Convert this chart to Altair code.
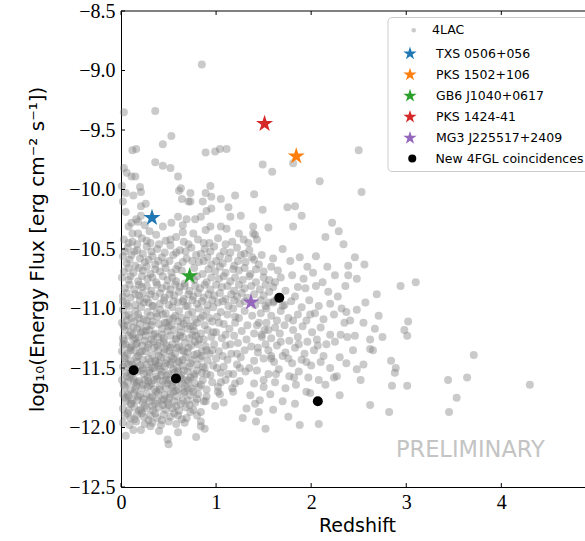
import math
import altair as alt
import pandas as pd

# ---------------- data ----------------
# 4LAC blazars: (redshift, log10 energy flux)
lac_upper = [
    (0.85, -8.95), (0.03, -9.35), (0.36, -9.34), (0.53, -9.55), (0.44, -9.62), (0.16, -9.66),
    (0.12, -9.67), (0.03, -9.82), (0.06, -9.86), (0.11, -9.89), (0.15, -9.89), (0.36, -9.77),
    (0.44, -9.80), (0.52, -9.82), (0.60, -9.89), (0.61, -10.01), (0.64, -10.08), (0.73, -10.03),
    (0.89, -9.69), (0.99, -9.68), (1.04, -9.66), (1.11, -9.66), (1.49, -9.79), (1.59, -9.85),
    (2.50, -9.67), (2.53, -10.02), (2.09, -9.93), (1.81, -9.78), (1.83, -10.14), (1.75, -10.15),
    (1.90, -10.22), (1.81, -10.31), (1.49, -10.17), (1.40, -10.04), (1.55, -10.32), (1.39, -10.31),
    (1.41, -10.38), (1.43, -10.42), (2.22, -10.28), (2.29, -10.35), (2.15, -10.40), (2.34, -10.46),
    (0.20, -9.98), (0.21, -10.02), (0.05, -10.03), (0.13, -10.05), (0.63, -9.99), (0.73, -10.10),
    (0.94, -9.97), (0.86, -10.10), (0.89, -10.03), (0.95, -10.06), (1.20, -10.05), (1.05, -10.08),
    (0.05, -10.19), (0.21, -10.14), (0.26, -10.12), (0.11, -10.28), (0.21, -10.22), (0.08, -10.31),
    (0.18, -10.27), (0.44, -10.31), (0.53, -10.28), (0.60, -10.23), (0.69, -10.25), (0.65, -10.30),
    (0.78, -10.25), (0.84, -10.23), (0.90, -10.18), (0.95, -10.16), (1.13, -10.15), (1.15, -10.23),
    (1.26, -10.22), (0.65, -10.36), (0.76, -10.37), (0.89, -10.34), (0.94, -10.31), (1.05, -10.31),
    (1.11, -10.33), (1.24, -10.37), (1.39, -10.37), (0.02, -10.10), (0.01, -9.97), (0.30, -10.35),
    (0.37, -10.38), (0.25, -10.30), (0.12, -10.37), (0.16, -10.25), (0.18, -10.37), (0.71, -10.10),
]

lac_middle = [
    (0.03, -10.42), (0.12, -10.44), (0.22, -10.41), (0.31, -10.45), (0.47, -10.43), (0.58, -10.40),
    (0.66, -10.44), (0.81, -10.42), (0.93, -10.45), (1.02, -10.41), (1.17, -10.44), (1.29, -10.42),
    (0.07, -10.49), (0.17, -10.51), (0.27, -10.48), (0.38, -10.50), (0.52, -10.47), (0.62, -10.51),
    (0.74, -10.49), (0.88, -10.50), (0.98, -10.48), (1.08, -10.52), (1.22, -10.49), (1.35, -10.51),
    (0.02, -10.56), (0.11, -10.55), (0.20, -10.58), (0.33, -10.56), (0.43, -10.57), (0.55, -10.55),
    (0.69, -10.58), (0.79, -10.55), (0.91, -10.57), (1.04, -10.56), (1.13, -10.58), (1.26, -10.55),
    (1.38, -10.57), (0.06, -10.62), (0.15, -10.64), (0.25, -10.61), (0.36, -10.63), (0.46, -10.62),
    (0.60, -10.64), (0.82, -10.61), (0.95, -10.63), (1.07, -10.62), (1.19, -10.64), (1.31, -10.61),
    (1.45, -10.63), (0.03, -10.69), (0.13, -10.70), (0.23, -10.68), (0.31, -10.71), (0.41, -10.69),
    (0.53, -10.70), (0.64, -10.68), (0.86, -10.71), (0.99, -10.69), (1.10, -10.70), (1.24, -10.68),
    (1.36, -10.71), (1.50, -10.69), (0.08, -10.76), (0.18, -10.77), (0.28, -10.75), (0.37, -10.78),
    (0.49, -10.76), (0.58, -10.77), (0.67, -10.79), (0.77, -10.76), (0.90, -10.78), (1.03, -10.75),
    (1.15, -10.77), (1.28, -10.76), (1.42, -10.78), (1.56, -10.76), (0.04, -10.83), (0.14, -10.84),
    (0.22, -10.82), (0.32, -10.85), (0.43, -10.83), (0.52, -10.84), (0.62, -10.82), (0.72, -10.85),
    (0.83, -10.83), (0.94, -10.84), (1.06, -10.82), (1.19, -10.85), (1.30, -10.83), (1.46, -10.84),
    (1.60, -10.82), (0.02, -10.90), (0.10, -10.91), (0.19, -10.89), (0.27, -10.92), (0.36, -10.90),
    (0.46, -10.91), (0.56, -10.89), (0.66, -10.92), (0.76, -10.90), (0.87, -10.91), (0.98, -10.89),
    (1.10, -10.92), (1.22, -10.90), (1.33, -10.91), (1.50, -10.89), (1.64, -10.92), (0.06, -10.96),
    (0.15, -10.97), (0.24, -10.95), (0.33, -10.98), (0.41, -10.96), (0.50, -10.97), (0.60, -10.95),
    (0.70, -10.98), (0.80, -10.96), (0.91, -10.97), (1.02, -10.95), (1.13, -10.98), (1.25, -10.96),
    (1.41, -10.97), (1.55, -10.95), (1.70, -10.98),
]

lac_middle_extra = [
    (0.08, -10.45), (0.17, -10.46), (0.27, -10.43), (0.40, -10.46), (0.52, -10.42), (0.71, -10.46),
    (0.87, -10.45), (1.10, -10.46), (1.34, -10.45), (0.04, -10.52), (0.14, -10.52), (0.23, -10.54),
    (0.32, -10.52), (0.46, -10.53), (0.58, -10.53), (0.68, -10.52), (0.84, -10.54), (0.94, -10.52),
    (1.15, -10.53), (1.30, -10.54), (0.09, -10.59), (0.29, -10.59), (0.39, -10.60), (0.51, -10.60),
    (0.65, -10.61), (0.75, -10.60), (0.87, -10.60), (1.00, -10.60), (1.23, -10.60), (1.40, -10.59),
    (0.08, -10.66), (0.19, -10.66), (0.27, -10.65), (0.36, -10.67), (0.47, -10.66), (0.58, -10.67),
    (0.77, -10.66), (0.92, -10.67), (1.04, -10.65), (1.18, -10.67), (1.30, -10.66), (1.42, -10.67),
    (1.58, -10.65), (0.01, -10.74), (0.10, -10.73), (0.22, -10.73), (0.33, -10.74), (0.44, -10.73),
    (0.54, -10.74), (0.80, -10.73), (0.95, -10.74), (1.08, -10.73), (1.20, -10.74), (1.35, -10.73),
    (1.50, -10.74), (1.68, -10.74), (0.09, -10.80), (0.19, -10.80), (0.27, -10.81), (0.38, -10.80),
    (0.48, -10.81), (0.57, -10.80), (0.67, -10.81), (0.78, -10.81), (0.88, -10.80), (1.00, -10.80),
    (1.12, -10.81), (1.24, -10.80), (1.37, -10.81), (1.52, -10.80), (0.06, -10.87), (0.15, -10.88),
    (0.23, -10.87), (0.31, -10.88), (0.41, -10.87), (0.51, -10.88), (0.61, -10.86), (0.71, -10.88),
    (0.81, -10.87), (0.92, -10.88), (1.04, -10.87), (1.16, -10.88), (1.27, -10.87), (1.40, -10.88),
    (1.56, -10.86), (0.02, -10.94), (0.20, -10.93), (0.29, -10.95), (0.45, -10.93), (0.55, -10.94),
    (0.65, -10.94), (0.75, -10.93), (0.85, -10.94), (0.96, -10.93), (1.07, -10.94), (1.19, -10.93),
    (1.30, -10.94), (1.47, -10.93), (1.61, -10.94),
]

lac_core = [
    (0.02, -11.01), (0.08, -10.98), (0.15, -11.02), (0.21, -10.99), (0.28, -11.03), (0.34, -10.98),
    (0.41, -11.01), (0.47, -11.04), (0.54, -10.99), (0.61, -11.02), (0.68, -10.98), (0.75, -11.03),
    (0.82, -11.00), (0.90, -11.02), (0.97, -10.99), (1.05, -11.03), (1.18, -11.00), (1.30, -11.02),
    (0.05, -11.06), (0.11, -11.08), (0.18, -11.05), (0.24, -11.09), (0.31, -11.06), (0.38, -11.07),
    (0.44, -11.05), (0.51, -11.09), (0.57, -11.06), (0.64, -11.08), (0.71, -11.05), (0.78, -11.09),
    (0.86, -11.06), (0.93, -11.08), (1.01, -11.07), (1.12, -11.05), (1.24, -11.08), (1.38, -11.06),
    (0.01, -11.12), (0.07, -11.14), (0.14, -11.11), (0.20, -11.13), (0.27, -11.15), (0.33, -11.11),
    (0.40, -11.13), (0.46, -11.12), (0.53, -11.14), (0.60, -11.11), (0.66, -11.13), (0.73, -11.15),
    (0.80, -11.12), (0.88, -11.14), (0.96, -11.11), (1.08, -11.13), (1.20, -11.12), (1.33, -11.14),
    (1.45, -11.12), (0.04, -11.18), (0.10, -11.20), (0.17, -11.17), (0.23, -11.19), (0.30, -11.18),
    (0.36, -11.21), (0.43, -11.17), (0.49, -11.19), (0.56, -11.18), (0.63, -11.20), (0.70, -11.17),
    (0.77, -11.19), (0.84, -11.21), (0.91, -11.18), (1.00, -11.20), (1.14, -11.17), (1.27, -11.19),
    (1.40, -11.21), (1.55, -11.18), (0.02, -11.25), (0.08, -11.23), (0.13, -11.26), (0.19, -11.24),
    (0.26, -11.23), (0.32, -11.26), (0.39, -11.24), (0.45, -11.25), (0.52, -11.23), (0.58, -11.26),
    (0.65, -11.24), (0.72, -11.25), (0.79, -11.23), (0.87, -11.26), (0.95, -11.24), (1.06, -11.25),
    (1.19, -11.23), (1.32, -11.26), (1.48, -11.24), (0.05, -11.30), (0.11, -11.32), (0.17, -11.29),
    (0.22, -11.31), (0.29, -11.30), (0.35, -11.33), (0.41, -11.29), (0.48, -11.31), (0.54, -11.30),
    (0.61, -11.32), (0.67, -11.29), (0.74, -11.31), (0.81, -11.30), (0.89, -11.32), (0.98, -11.30),
    (1.10, -11.31), (1.23, -11.29), (1.37, -11.32), (1.52, -11.30), (0.01, -11.36), (0.07, -11.38),
    (0.14, -11.35), (0.20, -11.37), (0.26, -11.36), (0.33, -11.39), (0.39, -11.35), (0.45, -11.37),
    (0.51, -11.36), (0.57, -11.38), (0.64, -11.35), (0.70, -11.37), (0.77, -11.39), (0.85, -11.36),
    (0.93, -11.38), (1.03, -11.36), (1.16, -11.38), (1.30, -11.35), (1.44, -11.37), (0.04, -11.42),
    (0.10, -11.44), (0.16, -11.41), (0.23, -11.43), (0.29, -11.42), (0.36, -11.44), (0.42, -11.41),
    (0.48, -11.43), (0.55, -11.42), (0.61, -11.45), (0.68, -11.41), (0.75, -11.43), (0.83, -11.42),
    (0.91, -11.44), (1.00, -11.42), (1.12, -11.43), (1.26, -11.41), (1.40, -11.44), (1.58, -11.42),
    (0.02, -11.49), (0.08, -11.47), (0.14, -11.50), (0.20, -11.48), (0.27, -11.47), (0.33, -11.50),
    (0.39, -11.48), (0.46, -11.49), (0.52, -11.47), (0.59, -11.50), (0.65, -11.48), (0.72, -11.49),
    (0.80, -11.47), (0.88, -11.50), (0.97, -11.48), (1.08, -11.49), (1.22, -11.47), (1.35, -11.50),
    (0.05, -11.54), (0.11, -11.56), (0.17, -11.53), (0.24, -11.55), (0.30, -11.54), (0.37, -11.57),
    (0.43, -11.53), (0.50, -11.55), (0.56, -11.54), (0.63, -11.56), (0.70, -11.53), (0.77, -11.55),
    (0.85, -11.54), (0.94, -11.56), (1.05, -11.54), (1.18, -11.55), (1.31, -11.53), (0.01, -11.60),
    (0.07, -11.62), (0.13, -11.59), (0.19, -11.61), (0.25, -11.60), (0.32, -11.63), (0.38, -11.59),
    (0.44, -11.61), (0.51, -11.60), (0.58, -11.62), (0.64, -11.59), (0.71, -11.61), (0.78, -11.63),
    (0.86, -11.60), (0.96, -11.62), (1.10, -11.60), (1.25, -11.61), (0.04, -11.66), (0.10, -11.68),
    (0.16, -11.65), (0.22, -11.67), (0.28, -11.66), (0.35, -11.68), (0.41, -11.65), (0.47, -11.67),
    (0.54, -11.66), (0.60, -11.68), (0.67, -11.65), (0.74, -11.67), (0.82, -11.66), (0.90, -11.68),
    (1.02, -11.66), (1.17, -11.67), (0.02, -11.72), (0.08, -11.74), (0.14, -11.71), (0.20, -11.73),
    (0.27, -11.72), (0.33, -11.74), (0.39, -11.71), (0.46, -11.73), (0.52, -11.72), (0.59, -11.74),
    (0.66, -11.71), (0.73, -11.73), (0.81, -11.72), (0.90, -11.74), (1.04, -11.72), (0.05, -11.78),
    (0.11, -11.80), (0.17, -11.77), (0.23, -11.79), (0.30, -11.78), (0.36, -11.80), (0.43, -11.77),
    (0.49, -11.79), (0.56, -11.78), (0.63, -11.80), (0.70, -11.77), (0.78, -11.79), (0.87, -11.78),
    (0.02, -11.84), (0.08, -11.86), (0.14, -11.83), (0.21, -11.85), (0.27, -11.84), (0.34, -11.86),
    (0.40, -11.83), (0.47, -11.85), (0.54, -11.84), (0.61, -11.86), (0.68, -11.83), (0.76, -11.85),
    (0.84, -11.87), (0.04, -11.90), (0.10, -11.92), (0.17, -11.89), (0.24, -11.91), (0.31, -11.90),
    (0.38, -11.92), (0.45, -11.89), (0.52, -11.91), (0.60, -11.90), (0.69, -11.92), (0.80, -11.90),
    (0.02, -11.96), (0.09, -11.98), (0.16, -11.95), (0.25, -11.97), (0.33, -11.96), (0.42, -11.98),
    (0.50, -11.95), (0.58, -11.97), (0.67, -11.96), (0.84, -11.95), (0.05, -12.07), (0.13, -12.02),
    (0.21, -12.02), (0.31, -11.99), (0.49, -12.10), (0.79, -12.08), (0.40, -12.03), (0.60, -12.04),
    (0.88, -12.01), (0.50, -12.14),
]

lac_core_extra = [
    (0.03, -11.15), (0.12, -11.22), (0.09, -11.33), (0.18, -11.40), (0.25, -11.27), (0.31, -11.45),
    (0.22, -11.52), (0.28, -11.58), (0.35, -11.50), (0.40, -11.40), (0.47, -11.46), (0.42, -11.56),
    (0.49, -11.63), (0.55, -11.51), (0.60, -11.44), (0.62, -11.58), (0.67, -11.70), (0.55, -11.70),
    (0.45, -11.76), (0.37, -11.70), (0.30, -11.65), (0.24, -11.76), (0.15, -11.68), (0.06, -11.57),
    (0.12, -11.47), (0.04, -11.40), (0.16, -11.30), (0.21, -11.20), (0.34, -11.22), (0.38, -11.31),
    (0.45, -11.28), (0.52, -11.33), (0.58, -11.25), (0.66, -11.36), (0.73, -11.46), (0.70, -11.60),
    (0.77, -11.57), (0.80, -11.38), (0.86, -11.49), (0.50, -11.81), (0.33, -11.82), (0.19, -11.86),
    (0.10, -11.80), (0.07, -11.72), (0.14, -11.62), (0.02, -11.30), (0.08, -11.05), (0.27, -11.10),
    (0.48, -11.12), (0.63, -11.15), (0.75, -11.22), (0.90, -11.35), (0.84, -11.08), (0.89, -11.78),
    (1.02, -11.70), (1.18, -11.70), (0.99, -11.82), (1.08, -11.79), (1.41, -11.80), (0.84, -11.99),
]

lac_core_extra2 = [
    (0.06, -11.10), (0.13, -11.16), (0.19, -11.08), (0.26, -11.19), (0.32, -11.14), (0.37, -11.04),
    (0.43, -11.22), (0.50, -11.15), (0.55, -11.08), (0.62, -11.23), (0.69, -11.10), (0.76, -11.15),
    (0.82, -11.26), (0.03, -11.27), (0.10, -11.35), (0.15, -11.25), (0.22, -11.36), (0.28, -11.33),
    (0.34, -11.28), (0.40, -11.46), (0.46, -11.34), (0.53, -11.40), (0.59, -11.33), (0.65, -11.43),
    (0.71, -11.33), (0.78, -11.28), (0.85, -11.40), (0.05, -11.46), (0.10, -11.52), (0.17, -11.45),
    (0.23, -11.50), (0.30, -11.52), (0.36, -11.45), (0.41, -11.51), (0.48, -11.56), (0.53, -11.45),
    (0.60, -11.53), (0.66, -11.52), (0.73, -11.58), (0.80, -11.52), (0.90, -11.55), (0.03, -11.64),
    (0.09, -11.58), (0.17, -11.62), (0.23, -11.64), (0.29, -11.61), (0.35, -11.60), (0.41, -11.68),
    (0.47, -11.60), (0.53, -11.64), (0.58, -11.69), (0.64, -11.63), (0.70, -11.67), (0.76, -11.70),
    (0.84, -11.64), (0.05, -11.75), (0.12, -11.77), (0.18, -11.74), (0.25, -11.82), (0.31, -11.75),
    (0.38, -11.77), (0.44, -11.81), (0.51, -11.75), (0.58, -11.82), (0.65, -11.77), (0.72, -11.81),
    (0.80, -11.76), (0.07, -11.88), (0.14, -11.93), (0.22, -11.88), (0.29, -11.94), (0.36, -11.88),
    (0.43, -11.94), (0.56, -11.88), (0.64, -11.93), (0.73, -11.87), (0.96, -11.35), (1.07, -11.40),
    (1.15, -11.30), (1.22, -11.38), (1.01, -11.50), (1.13, -11.55), (1.25, -11.50), (1.05, -11.62),
    (1.20, -11.63), (0.97, -11.20), (1.10, -11.22), (1.20, -11.07), (1.03, -11.12),
]

lac_spread = [
    (1.48, -10.55), (1.60, -10.58), (1.70, -10.50), (1.78, -10.60), (1.88, -10.57), (1.96, -10.65),
    (2.05, -10.56), (2.17, -10.65), (1.65, -10.68), (1.80, -10.72), (1.92, -10.75), (2.02, -10.70),
    (2.12, -10.78), (2.25, -10.72), (1.62, -10.78), (1.73, -10.85), (1.86, -10.82), (2.28, -10.90),
    (1.60, -10.95), (1.72, -10.97), (1.90, -10.99), (1.98, -10.93), (2.08, -10.98), (2.20, -10.96),
    (2.32, -11.00), (1.47, -11.04), (1.58, -11.06), (1.68, -11.02), (1.76, -11.08), (1.86, -11.05),
    (1.95, -11.10), (2.04, -11.04), (2.13, -11.09), (2.24, -11.05), (2.35, -11.12), (1.43, -11.14),
    (1.53, -11.12), (1.62, -11.16), (1.72, -11.14), (1.81, -11.18), (1.91, -11.15), (2.01, -11.20),
    (2.10, -11.16), (2.20, -11.22), (1.48, -11.22), (1.58, -11.25), (1.67, -11.21), (1.77, -11.27),
    (1.86, -11.24), (1.96, -11.28), (2.06, -11.26), (2.16, -11.30), (1.44, -11.33), (1.55, -11.35),
    (1.64, -11.31), (1.73, -11.37), (1.83, -11.33), (1.93, -11.38), (2.03, -11.35), (2.13, -11.40),
    (1.50, -11.42), (1.61, -11.45), (1.70, -11.40), (1.80, -11.46), (1.90, -11.43), (2.00, -11.48),
    (2.10, -11.45), (2.20, -11.50), (1.43, -11.52), (1.55, -11.55), (1.66, -11.51), (1.77, -11.57),
    (1.87, -11.53), (1.97, -11.58), (2.08, -11.60), (1.40, -11.63), (1.50, -11.66), (1.62, -11.62),
    (1.73, -11.67), (1.84, -11.64), (1.95, -11.70), (1.36, -11.73), (1.46, -11.77), (1.57, -11.72),
    (1.70, -11.78), (1.83, -11.80), (1.32, -11.84), (1.45, -11.87), (1.60, -11.85), (1.76, -11.91),
    (1.28, -11.92), (1.42, -11.95), (1.52, -10.98), (1.66, -10.92), (1.79, -10.94), (1.53, -11.00),
    (1.64, -11.10), (1.81, -11.10), (1.99, -11.05), (1.51, -11.18), (1.68, -11.28), (1.87, -11.30),
    (2.07, -11.31), (1.58, -11.40), (1.76, -11.42), (1.95, -11.45), (1.63, -11.55), (1.82, -11.58),
    (1.50, -11.60),
]

lac_tail = [
    (2.46, -10.57), (2.56, -10.63), (2.39, -10.64), (2.48, -10.75), (2.39, -10.72), (2.94, -10.81),
    (3.10, -10.78), (2.69, -10.88), (3.02, -11.11), (2.98, -11.18), (3.01, -11.23), (2.67, -11.17),
    (2.75, -11.24), (2.62, -11.34), (2.84, -11.44), (2.89, -11.50), (2.88, -11.54), (2.85, -11.65),
    (3.01, -11.65), (2.62, -11.81), (2.82, -11.87), (2.30, -11.73), (2.08, -11.97), (1.88, -11.98),
    (1.52, -12.01), (1.99, -11.71), (2.46, -11.23), (2.38, -11.24), (2.48, -11.51), (2.24, -11.58),
    (2.55, -11.47), (2.55, -11.12), (2.41, -11.10), (2.48, -11.01), (2.37, -11.03), (2.57, -10.95),
    (2.62, -11.26), (2.65, -11.35), (2.37, -11.46), (2.30, -11.41), (2.27, -11.57), (2.15, -11.64),
    (2.31, -11.22), (2.25, -11.28), (2.05, -10.81), (2.18, -10.86), (2.36, -10.81), (1.94, -10.83),
    (1.83, -10.90), (2.71, -11.06), (2.44, -11.35), (2.52, -11.60), (3.71, -11.39), (3.64, -11.58),
    (3.44, -11.60), (3.53, -11.75), (3.45, -11.87), (4.30, -11.64),
]

lac_label = "4LAC"

star_names = ["TXS 0506+056", "PKS 1502+106", "GB6 J1040+0617", "PKS 1424-41", "MG3 J225517+2409"]
star_z = [0.326, 1.843, 0.722, 1.51, 1.367]
star_flux = [-10.238, -9.72, -10.728, -9.448, -10.947]

new_label = "New 4FGL coincidences"
new_z = [0.133, 0.578, 1.665, 2.07]
new_flux = [-11.519, -11.588, -10.91, -11.779]

x_ticks = [0, 1, 2, 3, 4]
y_ticks = [-12.5, -12.0, -11.5, -11.0, -10.5, -10.0, -9.5, -9.0, -8.5]

prelim_text = "PRELIMINARY"
prelim_z = 3.674
prelim_flux = -12.185

# ---------------- styles ----------------
W, H = 464, 476
X_MAX = 4.88

lac_color = "rgba(128,128,128,0.42)"
star_colors = ["#1f77b4", "#ff7f0e", "#2ca02c", "#d62728", "#9467bd"]
new_color = "#000000"

star_pts = []
for i in range(10):
    r = 1.0 if i % 2 == 0 else 0.382
    a = math.radians(-90 + 36 * i)
    star_pts.append(f"{r * math.cos(a):.4f},{r * math.sin(a):.4f}")
STAR = "M" + " L".join(star_pts) + " Z"

# ---------------- tables ----------------
lac_all = (lac_upper + lac_middle + lac_middle_extra + lac_core + lac_core_extra
           + lac_core_extra2 + lac_spread + lac_tail)
lac_df = pd.DataFrame({"z": [p[0] for p in lac_all], "flux": [p[1] for p in lac_all],
                       "label": lac_label})
star_df = pd.DataFrame({"z": star_z, "flux": star_flux, "label": star_names})
new_df = pd.DataFrame({"z": new_z, "flux": new_flux, "label": new_label})

LEG_FONT = dict(labelFont="DejaVu Sans", labelFontSize=12.5, labelColor="black",
                title=None, orient="none", padding=0, symbolStrokeWidth=0)

x_axis = alt.Axis(
    values=x_ticks, format="d", labelFont="Liberation Serif", labelFontSize=20,
    labelColor="black", tickSize=0, labelPadding=5, labelFlush=False, labelOverlap=False,
    domainColor="black", domainWidth=1, grid=False, orient="bottom",
    title="Redshift", titleFont="DejaVu Sans", titleFontSize=19, titleFontWeight="normal",
    titleColor="black", titleX=236, titleY=44, titleBaseline="alphabetic", titleAlign="center",
)
y_axis = alt.Axis(
    values=y_ticks, format=".1f", labelFont="Liberation Serif", labelFontSize=20,
    labelColor="black", tickSize=0, labelPadding=6, labelFlush=False, labelOverlap=False,
    domainColor="black", domainWidth=1, grid=False, orient="left",
    title="log₁₀(Energy Flux [erg cm⁻² s⁻¹])", titleFont="DejaVu Sans", titleFontSize=20,
    titleFontWeight="normal", titleColor="black", titleX=-84, titleY=H / 2,
    titleAngle=270, titleBaseline="middle", titleAlign="center",
)
xs = alt.Scale(domain=[0, X_MAX], nice=False, zero=False)
ys = alt.Scale(domain=[-12.5, -8.5], nice=False, zero=False)


def X():
    return alt.X("z:Q", scale=xs, axis=x_axis)


def Y():
    return alt.Y("flux:Q", scale=ys, axis=y_axis)


lac_layer = alt.Chart(lac_df).mark_point(filled=True, strokeWidth=0, opacity=1, size=64).encode(
    x=X(), y=Y(),
    color=alt.Color("label:N", scale=alt.Scale(domain=[lac_label], range=[lac_color]),
                    legend=alt.Legend(legendX=286.5, legendY=13, symbolSize=20, labelOffset=12,
                                      symbolType="circle", **LEG_FONT)),
)

legend_box = alt.Chart(pd.DataFrame({"k": [0]})).mark_rect(
    fill="white", stroke="#cccccc", strokeWidth=1, cornerRadius=4
).encode(x=alt.value(267), x2=alt.value(W + 20), y=alt.value(6.5), y2=alt.value(160.5))

star_layer = alt.Chart(star_df).mark_point(filled=True, strokeWidth=0, opacity=1, size=324, shape=STAR).encode(
    x=X(), y=Y(),
    color=alt.Color("label:N", scale=alt.Scale(domain=star_names, range=star_colors),
                    legend=alt.Legend(legendX=282, legendY=35.6, symbolSize=196, labelOffset=19,
                                      rowPadding=7.1, symbolType=STAR, **LEG_FONT)),
)

new_layer = alt.Chart(new_df).mark_point(filled=True, strokeWidth=0, opacity=1, size=100).encode(
    x=X(), y=Y(),
    color=alt.Color("label:N", scale=alt.Scale(domain=[new_label], range=[new_color]),
                    legend=alt.Legend(legendX=285, legendY=141.3, symbolSize=64, labelOffset=17,
                                      symbolType="circle", **LEG_FONT)),
)

prelim = alt.Chart(pd.DataFrame({"z": [prelim_z], "flux": [prelim_flux], "t": [prelim_text]})).mark_text(
    font="DejaVu Sans", fontSize=22.5, color="#c4c4c4", align="center", baseline="middle"
).encode(x=X(), y=Y(), text="t:N")

xt = pd.DataFrame({"z": x_ticks})
yt = pd.DataFrame({"flux": y_ticks})
bottom_ticks = alt.Chart(xt).mark_rule(color="black", strokeWidth=1).encode(
    x=X(), y=alt.value(H), y2=alt.value(H - 4))
top_ticks = alt.Chart(xt).mark_rule(color="black", strokeWidth=1).encode(
    x=X(), y=alt.value(0), y2=alt.value(4))
left_ticks = alt.Chart(yt).mark_rule(color="black", strokeWidth=1).encode(
    y=Y(), x=alt.value(0), x2=alt.value(4))
top_frame = alt.Chart(pd.DataFrame({"k": [0]})).mark_rule(color="black", strokeWidth=1).encode(
    x=alt.value(0), x2=alt.value(W), y=alt.value(0))

chart = alt.layer(
    lac_layer, prelim, legend_box, star_layer, new_layer, bottom_ticks, top_ticks, left_ticks, top_frame
).resolve_scale(color="independent").properties(
    width=W, height=H,
    autosize=alt.AutoSizeParams(type="none"),
    padding={"left": 121, "top": 11, "right": 0, "bottom": 54},
    background="white",
).configure_view(stroke=None)

chart.save("out.html", embed_options={"renderer": "svg", "actions": False})
